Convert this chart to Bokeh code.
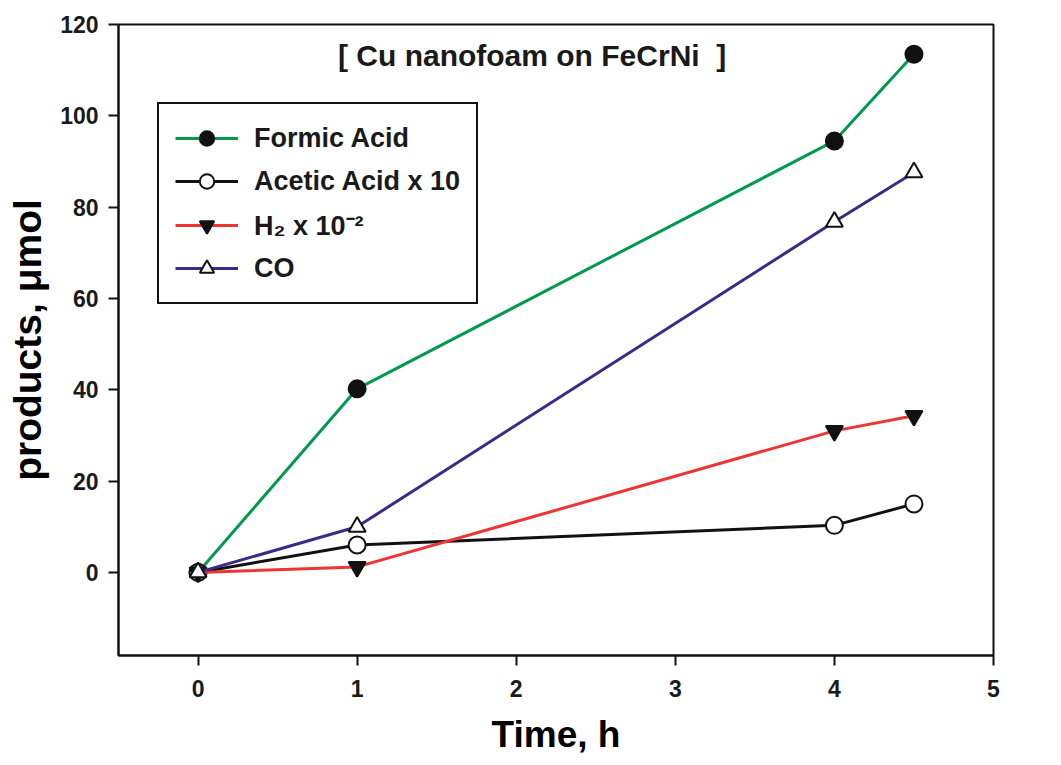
from bokeh.plotting import figure
from bokeh.models import Legend, LegendItem, Label, FixedTicker, Range1d
from bokeh.embed import file_html
from bokeh.resources import INLINE

# ---- data ----
time_h = [0, 1, 4, 4.5]
formic_acid = [0, 40.2, 94.5, 113.5]
acetic_acid_x10 = [0, 6.0, 10.3, 15.0]
h2_x1e_2 = [0, 1.2, 31.0, 34.3]
co = [0, 10.0, 76.8, 87.6]

x_ticks = [0, 1, 2, 3, 4, 5]
y_ticks = [0, 20, 40, 60, 80, 100, 120]

series_labels = ["Formic Acid", "Acetic Acid x 10", "H\u2082 x 10\u207b\u00b2", "CO"]
title_text = "[ Cu nanofoam on FeCrNi\u00a0\u00a0]"

FONT = "Liberation Sans"

p = figure(
    frame_width=875, frame_height=631,
    x_range=Range1d(-0.5, 5), y_range=Range1d(-18.2, 120),
    output_backend="svg", toolbar_location=None,
    min_border_left=118, min_border_top=24, min_border_right=60, min_border_bottom=104,
    background_fill_color="white", border_fill_color="white",
)
p.grid.visible = False
p.outline_line_color = "#111111"
p.outline_line_width = 2

for ax in (p.xaxis[0], p.yaxis[0]):
    ax.axis_line_width = 2
    ax.axis_line_color = "#111111"
    ax.major_tick_line_width = 2
    ax.major_tick_line_color = "#111111"
    ax.major_tick_out = 10
    ax.major_tick_in = 0
    ax.minor_tick_line_color = None
    ax.major_label_text_font = FONT
    ax.major_label_text_font_size = "23px"
    ax.major_label_text_font_style = "bold"
    ax.major_label_text_color = "#1a1a1a"
    ax.axis_label_text_font = FONT
    ax.axis_label_text_font_style = "bold"
    ax.axis_label_text_color = "black"

p.xaxis.axis_label_text_font_size = "37px"
p.yaxis.axis_label_text_font_size = "39px"
p.xaxis.ticker = FixedTicker(ticks=x_ticks)
p.yaxis.ticker = FixedTicker(ticks=y_ticks)
p.xaxis.axis_label = "Time, h"
p.yaxis.axis_label = "products, \u03bcmol"
p.xaxis.major_label_standoff = 14
p.xaxis.axis_label_standoff = 14
p.yaxis.major_label_standoff = 10
p.yaxis.axis_label_standoff = 8

colors = ["#009a4e", "#111111", "#ee3535", "#3b2a8a"]
markers = ["circle", "circle", "inverted_triangle", "triangle"]
fills = ["#111111", "white", "#111111", "white"]
ys = [formic_acid, acetic_acid_x10, h2_x1e_2, co]

items = []
for label, yv, c, m, f in zip(series_labels, ys, colors, markers, fills):
    r1 = p.line(time_h, yv, line_color=c, line_width=3)
    r2 = p.scatter(time_h, yv, marker=m, size=17, fill_color=f,
                   line_color="#111111", line_width=2)
    items.append(LegendItem(label=label, renderers=[r1, r2]))

legend = Legend(items=items, location=(39, 351))
legend.label_text_font = FONT
legend.label_text_font_size = "27px"
legend.label_text_font_style = "bold"
legend.label_text_color = "#1a1a1a"
legend.glyph_width = 63
legend.glyph_height = 36
legend.label_height = 36
legend.spacing = 7
legend.padding = 16
legend.margin = 0
legend.label_standoff = 16
legend.border_line_color = "#111111"
legend.border_line_alpha = 1
legend.border_line_width = 2
legend.background_fill_color = "white"
legend.background_fill_alpha = 1
p.add_layout(legend, "center")

title = Label(x=2.1, y=113.2, text=title_text, text_align="center", text_baseline="middle",
              text_font=FONT, text_font_size="30px", text_font_style="bold",
              text_color="#1a1a1a")
p.add_layout(title)

open("out.html", "w").write(file_html(p, INLINE))
